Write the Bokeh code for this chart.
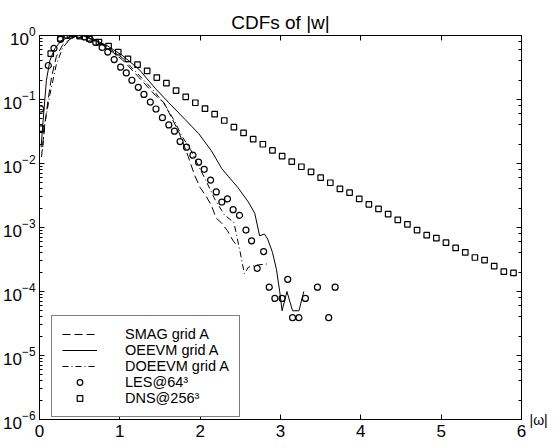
from bokeh.plotting import figure
from bokeh.models import (Range1d, LinearAxis, LogAxis, Legend, LegendItem, FixedTicker,
                          CustomJSTickFormatter)
from bokeh.embed import file_html
from bokeh.resources import INLINE

# ---- data ----
smag_x = [0.025, 0.065, 0.11, 0.15, 0.21, 0.29, 0.40, 0.48, 0.56, 0.64, 0.83, 1.03, 1.24, 1.44,
          1.55, 1.61, 1.73, 1.84, 1.93, 2.00, 2.08, 2.14, 2.20, 2.26, 2.34, 2.41, 2.46]
smag_y = [0.0126, 0.040, 0.105, 0.224, 0.47, 0.72, 0.91, 1.0, 1.0, 0.89, 0.66, 0.42, 0.22, 0.117,
          0.089, 0.063, 0.032, 0.0141, 0.0066, 0.0042, 0.0030, 0.0022, 0.0014, 0.0012, 0.00089,
          0.00062, 0.00052]

oeevm_x = [0.02, 0.045, 0.086, 0.13, 0.19, 0.27, 0.37, 0.46, 0.55, 0.64, 0.83, 1.03, 1.24, 1.34,
           1.44, 1.61, 1.81, 1.98, 2.14, 2.27, 2.35, 2.47, 2.60, 2.68, 2.74, 2.80, 2.84, 2.90,
           2.95, 2.99, 3.02, 3.08, 3.15, 3.23, 3.29]
oeevm_y = [0.018, 0.047, 0.20, 0.41, 0.62, 0.83, 0.95, 1.0, 0.98, 0.89, 0.71, 0.49, 0.295, 0.21,
           0.15, 0.089, 0.049, 0.0295, 0.0158, 0.0083, 0.0063, 0.0042, 0.0025, 0.00166, 0.00074,
           0.00079, 0.00066, 0.00041, 0.00022, 0.0001, 0.00005, 0.0001, 0.00005, 0.00005, 0.0001]

doeevm_x = [0.04, 0.065, 0.13, 0.21, 0.29, 0.40, 0.48, 0.56, 0.64, 0.83, 1.03, 1.24, 1.44, 1.57,
            1.69, 1.77, 1.88, 1.98, 2.06, 2.18, 2.30, 2.42, 2.50, 2.55, 2.60, 2.72, 2.84]
doeevm_y = [0.018, 0.041, 0.12, 0.355, 0.65, 0.93, 1.0, 0.98, 0.87, 0.68, 0.45, 0.24, 0.129,
            0.079, 0.044, 0.027, 0.0166, 0.0091, 0.0058, 0.0028, 0.00158, 0.0012, 0.0004,
            0.00019, 0.00024, 0.00026, 0.00027]

les_x = [0.015, 0.11, 0.18, 0.26, 0.34, 0.42, 0.49, 0.56, 0.63, 0.70, 0.78, 0.85, 0.93, 1.01,
         1.08, 1.15, 1.23, 1.30, 1.38, 1.45, 1.53, 1.61, 1.68, 1.75, 1.83, 1.91, 1.98, 2.05,
         2.13, 2.20, 2.27, 2.34, 2.41, 2.49, 2.57, 2.64, 2.71, 2.79, 2.86, 2.93, 3.02, 3.09,
         3.15, 3.23, 3.31, 3.46, 3.60, 3.68]
les_y = [0.071, 0.34, 0.63, 0.87, 1.0, 1.05, 1.02, 0.95, 0.87, 0.78, 0.65, 0.55, 0.42, 0.32,
         0.26, 0.20, 0.155, 0.12, 0.091, 0.071, 0.052, 0.040, 0.032, 0.022, 0.018, 0.0135,
         0.0105, 0.0081, 0.0055, 0.0036, 0.0025, 0.0028, 0.0019, 0.00155, 0.00091, 0.00062,
         0.00023, 0.00042, 0.000117, 0.000078, 0.000078, 0.000155, 0.000039, 0.000039,
         0.000078, 0.000117, 0.000039, 0.000117]

dns_x = [0.02, 0.14, 0.26, 0.38, 0.50, 0.62, 0.74, 0.86, 0.98, 1.10, 1.22, 1.34, 1.46, 1.58,
         1.70, 1.82, 1.94, 2.06, 2.18, 2.30, 2.42, 2.54, 2.66, 2.78, 2.90, 3.02, 3.14, 3.26,
         3.38, 3.50, 3.62, 3.74, 3.86, 3.98, 4.10, 4.22, 4.34, 4.46, 4.58, 4.70, 4.82, 4.94,
         5.06, 5.18, 5.30, 5.42, 5.54, 5.66, 5.78, 5.90]
dns_y = [0.035, 0.52, 0.90, 1.0, 0.98, 0.90, 0.79, 0.68, 0.55, 0.43, 0.35, 0.28, 0.22, 0.18,
         0.138, 0.11, 0.089, 0.072, 0.059, 0.047, 0.037, 0.030, 0.024, 0.020, 0.016, 0.013,
         0.0107, 0.0089, 0.0074, 0.0060, 0.0050, 0.0040, 0.0035, 0.0028, 0.0023, 0.00195,
         0.00162, 0.00132, 0.00112, 0.00091, 0.00076, 0.00068, 0.00058, 0.00048, 0.00041,
         0.00034, 0.00031, 0.00025, 0.000204, 0.000195]

x_ticks = [0, 1, 2, 3, 4, 5, 6]
series_labels = ["SMAG grid A", "OEEVM grid A", "DOEEVM grid A", "LES@64³", "DNS@256³"]
title_text = "CDFs of |w|"
xlabel_text = "|ω|"

FONT = "Liberation Sans"

p = figure(width=550, height=440, y_axis_type="log",
           x_range=Range1d(0, 6), y_range=Range1d(1e-6, 1),
           output_backend="svg", toolbar_location=None,
           min_border_left=35, min_border_right=29, min_border_top=35, min_border_bottom=21)

p.title.text = title_text
p.title.align = "center"
p.title.text_font = FONT
p.title.text_font_size = "19px"
p.title.text_font_style = "normal"
p.title.text_color = "black"
p.title.standoff = 6

p.xgrid.grid_line_color = None
p.ygrid.grid_line_color = None
p.outline_line_color = "black"
p.outline_line_width = 1
p.background_fill_color = "white"
p.border_fill_color = "white"

r_smag = p.line(smag_x, smag_y, line_color="black", line_width=1, line_dash="8 4")
r_oe = p.line(oeevm_x, oeevm_y, line_color="black", line_width=1)
r_doe = p.line(doeevm_x, doeevm_y, line_color="black", line_width=1, line_dash="6 3 1 3")
r_les = p.scatter(les_x, les_y, marker="circle", size=6, fill_color=None,
                  line_color="black", line_width=1.2)
r_dns = p.scatter(dns_x, dns_y, marker="square", size=5.5, fill_color=None,
                  line_color="black", line_width=1.2)

# axes
xa = p.xaxis[0]
xa.ticker = FixedTicker(ticks=x_ticks)
ya = p.yaxis[0]
for ax in (xa, ya):
    ax.major_tick_in = 5
    ax.major_tick_out = 0
    ax.minor_tick_in = 3
    ax.minor_tick_out = 0
    ax.axis_line_color = "black"
    ax.major_tick_line_color = "black"
    ax.minor_tick_line_color = "black"
    ax.major_label_text_font = FONT
    ax.major_label_text_font_size = "17px"
    ax.major_label_text_color = "black"
xa.major_label_standoff = 5
ya.major_label_standoff = 4
xa.minor_tick_line_color = None

top = LinearAxis(ticker=FixedTicker(ticks=x_ticks), major_tick_in=5, major_tick_out=0,
                 minor_tick_line_color=None, formatter=CustomJSTickFormatter(code="return ''"),
                 major_label_standoff=0, axis_line_color="black")
# right axis: ticks mirrored; its bottom tick carries the x-axis name, as in the reference
right = LogAxis(major_tick_in=5, major_tick_out=0, minor_tick_in=3, minor_tick_out=0,
                formatter=CustomJSTickFormatter(
                    args=dict(name=xlabel_text),
                    code="return Math.abs(Math.log10(tick) + 6) < 0.01 ? name : ''"),
                major_label_standoff=8, axis_line_color="black",
                major_label_text_font=FONT, major_label_text_font_size="14px",
                major_label_text_color="black")
p.add_layout(top, "above")
p.add_layout(right, "right")

legend = Legend(items=[LegendItem(label=series_labels[0], renderers=[r_smag]),
                       LegendItem(label=series_labels[1], renderers=[r_oe]),
                       LegendItem(label=series_labels[2], renderers=[r_doe]),
                       LegendItem(label=series_labels[3], renderers=[r_les]),
                       LegendItem(label=series_labels[4], renderers=[r_dns])],
                location=(12, 2), padding=10, spacing=0, margin=0,
                label_height=14, glyph_height=14, glyph_width=35, label_standoff=28,
                label_text_font=FONT, label_text_font_size="14.5px", label_text_color="black",
                border_line_color="black", border_line_width=1, background_fill_color="white",
                background_fill_alpha=1)
p.add_layout(legend)

open("out.html", "w").write(file_html(p, INLINE))
